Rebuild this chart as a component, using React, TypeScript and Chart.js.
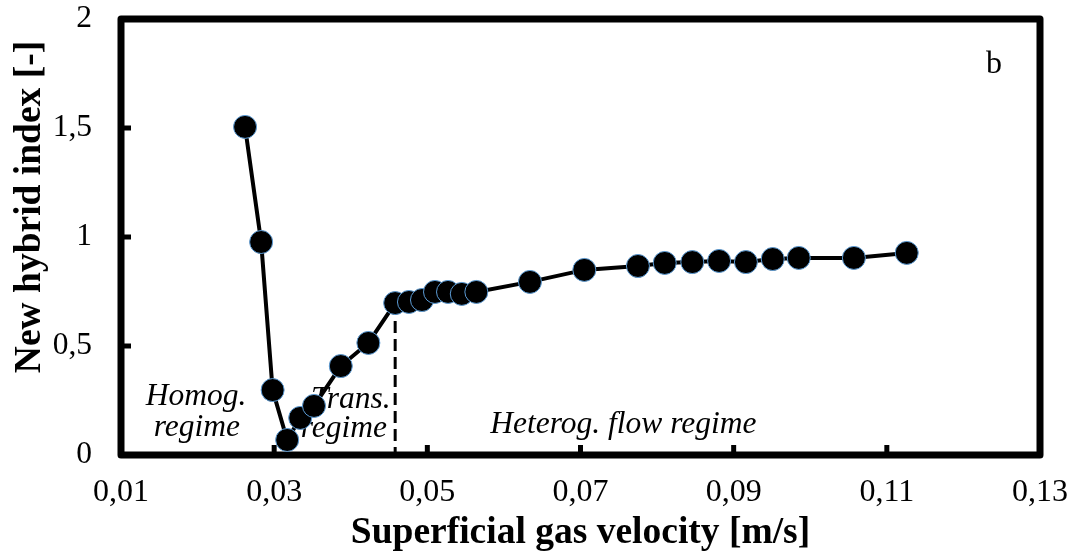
import React, { useEffect, useRef } from 'react';
import { Chart, registerables } from 'chart.js';

Chart.register(...registerables);

// Superficial gas velocity [m/s]
const velocity = [
  0.0262, 0.0283, 0.0298, 0.0317, 0.0334, 0.0352, 0.0387, 0.0423,
  0.0458, 0.0476, 0.0493, 0.0510, 0.0527, 0.0545, 0.0564, 0.0634,
  0.0705, 0.0775, 0.0810, 0.0846, 0.0881, 0.0916, 0.0951, 0.0985,
  0.1057, 0.1126,
];
// New hybrid index [-]
const hybridIndex = [
  1.505, 0.977, 0.298, 0.069, 0.170, 0.225, 0.408, 0.514,
  0.697, 0.702, 0.711, 0.748, 0.748, 0.739, 0.748, 0.794,
  0.849, 0.867, 0.881, 0.885, 0.890, 0.885, 0.899, 0.904,
  0.904, 0.927,
];
// Regime transition marker (dashed vertical line)
const transitionVelocity = [0.0458, 0.0458];
const transitionIndex = [0.697, 0];

const xTicks = [0.01, 0.03, 0.05, 0.07, 0.09, 0.11, 0.13];
const yTicks = [0, 0.5, 1, 1.5, 2];

const annotationTexts = ['Homog.', 'regime', 'Trans.', 'regime', 'Heterog. flow regime'];
const annotationX = [0.0198, 0.0199, 0.0400, 0.0391, 0.0756];
const annotationY = [0.229, 0.087, 0.216, 0.083, 0.101];
const panelLabel = 'b';
const panelX = 0.124;
const panelY = 1.752;

const xTitle = 'Superficial gas velocity [m/s]';
const yTitle = 'New hybrid index [-]';

const FONT = "'Liberation Serif', 'Times New Roman', serif";

const decoPlugin = {
  id: 'deco',
  beforeDatasetsDraw(chart: any) {
    const { ctx, chartArea, scales } = chart;
    const { left, right, top, bottom } = chartArea;
    const xs = scales.x;
    const ys = scales.y;
    ctx.save();
    // annotations
    ctx.fillStyle = '#000';
    ctx.textAlign = 'center';
    ctx.textBaseline = 'alphabetic';
    ctx.font = `italic 31.5px ${FONT}`;
    annotationTexts.forEach((t, i) => {
      ctx.fillText(t, xs.getPixelForValue(annotationX[i]), ys.getPixelForValue(annotationY[i]));
    });
    ctx.font = `32px ${FONT}`;
    ctx.fillText(panelLabel, xs.getPixelForValue(panelX), ys.getPixelForValue(panelY));

    // y axis title
    ctx.save();
    ctx.translate(30, 207);
    ctx.rotate(-Math.PI / 2);
    ctx.font = `bold 37.5px ${FONT}`;
    ctx.textBaseline = 'middle';
    ctx.fillText(yTitle, 0, 0);
    ctx.restore();

    // inward tick marks
    ctx.strokeStyle = '#000';
    ctx.lineWidth = 5;
    ctx.lineCap = 'butt';
    yTicks.forEach((v) => {
      const py = ys.getPixelForValue(v);
      ctx.beginPath();
      ctx.moveTo(left, py);
      ctx.lineTo(left + 10, py);
      ctx.stroke();
    });
    xTicks.forEach((v) => {
      const px = xs.getPixelForValue(v);
      ctx.beginPath();
      ctx.moveTo(px, bottom);
      ctx.lineTo(px, bottom - 10);
      ctx.stroke();
    });

    // frame
    ctx.lineWidth = 7;
    ctx.lineJoin = 'round';
    ctx.beginPath();
    ctx.moveTo(left, bottom);
    ctx.lineTo(left, top);
    ctx.lineTo(right, top);
    ctx.lineTo(right, bottom);
    ctx.closePath();
    ctx.stroke();
    ctx.restore();
  },
};

const zeroPadding = (s: any) => {
  s.paddingTop = 0;
  s.paddingBottom = 0;
  s.paddingLeft = 0;
  s.paddingRight = 0;
};

export default function App() {
  const ref = useRef<HTMLCanvasElement>(null);

  useEffect(() => {
    if (!ref.current) return;
    const chart = new Chart(ref.current, {
      type: 'line',
      data: {
        datasets: [
          {
            data: velocity.map((v, i) => ({ x: v, y: hybridIndex[i] })),
            borderColor: '#000',
            borderWidth: 4,
            pointRadius: 11.5,
            pointBackgroundColor: '#000',
            pointBorderColor: '#5B9BD5',
            pointBorderWidth: 1,
            tension: 0,
            order: 0,
            clip: false as any,
          },
          {
            data: transitionVelocity.map((v, i) => ({ x: v, y: transitionIndex[i] })),
            borderColor: '#000',
            borderWidth: 3,
            borderDash: [12, 6],
            pointRadius: 0,
            order: 1,
          },
        ],
      },
      options: {
        animation: false,
        responsive: false,
        devicePixelRatio: 1,
        layout: { padding: { top: 19, right: 35, left: 0, bottom: 0 } },
        plugins: { legend: { display: false }, tooltip: { enabled: false } },
        scales: {
          x: {
            type: 'linear',
            min: 0.01,
            max: 0.13,
            afterBuildTicks: (s: any) => {
              s.ticks = xTicks.map((v) => ({ value: v }));
            },
            afterFit: (s: any) => {
              s.height = 105;
              zeroPadding(s);
            },
            grid: { display: false, drawTicks: false },
            border: { display: false },
            ticks: {
              font: { family: FONT, size: 32 },
              color: '#000',
              padding: 18,
              maxRotation: 0,
              autoSkip: false,
              callback: (v: any) => Number(v).toFixed(2).replace('.', ','),
            },
            title: {
              display: true,
              text: xTitle,
              font: { family: FONT, size: 37.5, weight: 'bold' },
              color: '#000',
              padding: { top: 0, bottom: 4 },
            },
          },
          y: {
            type: 'linear',
            min: 0,
            max: 2,
            afterBuildTicks: (s: any) => {
              s.ticks = yTicks.map((v) => ({ value: v }));
            },
            afterFit: (s: any) => {
              s.width = 121;
              zeroPadding(s);
            },
            grid: { display: false, drawTicks: false },
            border: { display: false },
            ticks: {
              font: { family: FONT, size: 31.5 },
              color: '#000',
              padding: 29,
              autoSkip: false,
              callback: (v: any) => String(v).replace('.', ','),
            },
          },
        },
      },
      plugins: [decoPlugin],
    });
    return () => chart.destroy();
  }, []);

  return (
    <div style={{ position: 'absolute', left: 0, top: 0, width: 1075, height: 560, background: '#fff' }}>
      <canvas ref={ref} width={1075} height={560} style={{ display: 'block' }} />
    </div>
  );
}
